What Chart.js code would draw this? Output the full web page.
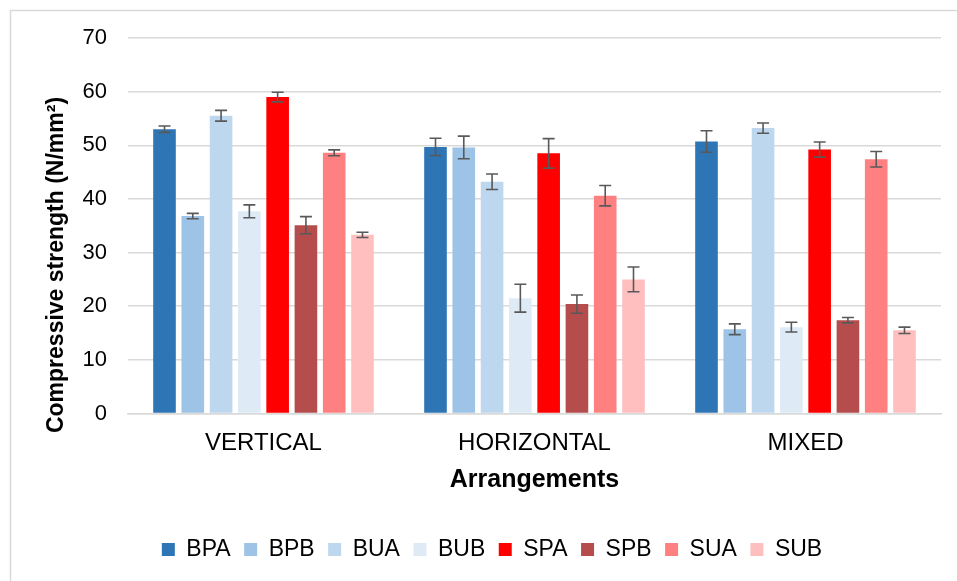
<!DOCTYPE html>
<html>
<head>
<meta charset="utf-8">
<script src="https://cdn.jsdelivr.net/npm/chart.js@4/dist/chart.umd.min.js"></script>
<style>
  html, body { margin: 0; padding: 0; background: #fff; }
  #wrap { width: 957px; height: 581px; position: relative; }
</style>
</head>
<body>
<div id="wrap"><canvas id="c" width="957" height="581"></canvas></div>
<script>
const categories = ["VERTICAL", "HORIZONTAL", "MIXED"];
const seriesNames = ["BPA", "BPB", "BUA", "BUB", "SPA", "SPB", "SUA", "SUB"];
const BPA = [53.0, 49.7, 50.7];
const BPB = [36.8, 49.6, 15.7];
const BUA = [55.5, 43.2, 53.2];
const BUB = [37.7, 21.5, 16.1];
const SPA = [59.0, 48.5, 49.2];
const SPB = [35.1, 20.4, 17.4];
const SUA = [48.6, 40.6, 47.4];
const SUB = [33.3, 25.0, 15.5];
const BPA_err = [0.6, 1.6, 2.0];
const BPB_err = [0.5, 2.1, 1.0];
const BUA_err = [1.0, 1.45, 0.95];
const BUB_err = [1.2, 2.6, 0.9];
const SPA_err = [0.9, 2.75, 1.4];
const SPB_err = [1.6, 1.7, 0.5];
const SUA_err = [0.55, 1.9, 1.45];
const SUB_err = [0.5, 2.3, 0.6];
const yTicks = [0, 10, 20, 30, 40, 50, 60, 70];
const yTitle = "Compressive strength (N/mm²)";
const xTitle = "Arrangements";

const values = [BPA, BPB, BUA, BUB, SPA, SPB, SUA, SUB];
const errors = [BPA_err, BPB_err, BUA_err, BUB_err, SPA_err, SPB_err, SUA_err, SUB_err];
const colors = ["#2E75B6", "#9DC3E6", "#BDD7EE", "#DEEBF7", "#FF0000", "#B64D4D", "#FF8080", "#FFBFBF"];

const FONT = "'Liberation Sans', Arial, Helvetica, sans-serif";

const bgPlugin = {
  id: 'bg',
  beforeDraw(chart) {
    const ctx = chart.ctx;
    ctx.save();
    ctx.fillStyle = '#fff';
    ctx.fillRect(0, 0, chart.width, chart.height);
    ctx.strokeStyle = '#D9D9D9';
    ctx.lineWidth = 1.5;
    ctx.beginPath();
    ctx.moveTo(10.5, chart.height + 5);
    ctx.lineTo(10.5, 10.5);
    ctx.lineTo(chart.width + 5, 10.5);
    ctx.stroke();
    ctx.restore();
  },
  afterDraw(chart) {
    const ctx = chart.ctx;
    ctx.save();
    ctx.translate(57, 265);
    ctx.rotate(-Math.PI / 2);
    ctx.font = "bold 23px " + FONT;
    ctx.fillStyle = '#000';
    ctx.textAlign = 'center';
    ctx.textBaseline = 'middle';
    ctx.fillText(yTitle, 0, 0);
    ctx.restore();
  }
};

const errPlugin = {
  id: 'errbars',
  afterDatasetsDraw(chart) {
    const ctx = chart.ctx;
    const ys = chart.scales.y;
    ctx.save();
    ctx.strokeStyle = '#595959';
    ctx.lineWidth = 1.6;
    chart.data.datasets.forEach((ds, di) => {
      const meta = chart.getDatasetMeta(di);
      meta.data.forEach((bar, i) => {
        const v = ds.data[i], e = ds.errs[i];
        const x = bar.x;
        const yT = ys.getPixelForValue(v + e);
        const yB = ys.getPixelForValue(v - e);
        const hw = 6;
        ctx.beginPath();
        ctx.moveTo(x, yT); ctx.lineTo(x, yB);
        ctx.moveTo(x - hw, yT); ctx.lineTo(x + hw, yT);
        ctx.moveTo(x - hw, yB); ctx.lineTo(x + hw, yB);
        ctx.stroke();
      });
    });
    ctx.restore();
  }
};

new Chart(document.getElementById('c'), {
  type: 'bar',
  data: {
    labels: categories,
    datasets: seriesNames.map((n, i) => ({
      label: n,
      data: values[i],
      errs: errors[i],
      backgroundColor: colors[i],
      borderWidth: 0,
      barPercentage: 0.8,
      categoryPercentage: 0.835
    }))
  },
  options: {
    responsive: false,
    animation: false,
    devicePixelRatio: 1,
    layout: { padding: { left: 43, right: 16, top: 38, bottom: 10 } },
    plugins: {
      legend: {
        position: 'bottom',
        labels: {
          font: { family: FONT, size: 23 },
          color: '#000',
          boxWidth: 13,
          boxHeight: 13,
          padding: 13.5
        }
      },
      tooltip: { enabled: false }
    },
    scales: {
      x: {
        grid: { display: false, drawTicks: false },
        border: { display: true, color: '#D9D9D9', width: 1.5 },
        ticks: { font: { family: FONT, size: 24 }, color: '#000', padding: 15 },
        title: {
          display: true, text: xTitle, color: '#000',
          font: { family: FONT, size: 25, weight: 'bold' },
          padding: { top: 4, bottom: 29 }
        },
        afterFit(s) { s.height = 111; }
      },
      y: {
        min: 0, max: 70,
        afterBuildTicks(s) { s.ticks = yTicks.map(v => ({ value: v })); },
        grid: { color: '#D9D9D9', lineWidth: 1.5, drawTicks: false },
        border: { display: false },
        ticks: { font: { family: FONT, size: 22 }, color: '#000', padding: 21 },
        title: { display: false },
        afterFit(s) { s.width = 85; }
      }
    }
  },
  plugins: [bgPlugin, errPlugin]
});
</script>
</body>
</html>
